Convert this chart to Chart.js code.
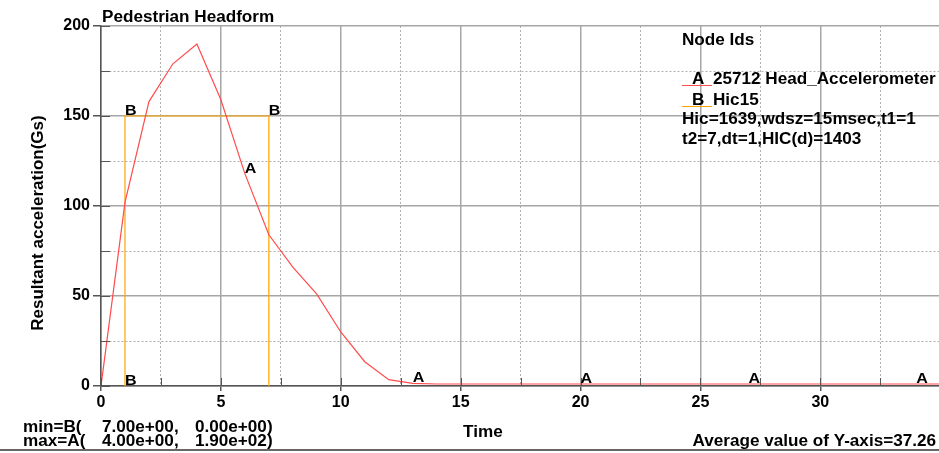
<!DOCTYPE html>
<html>
<head>
<meta charset="utf-8">
<title>Pedestrian Headform</title>
<script src="https://cdn.jsdelivr.net/npm/chart.js@4.4.1/dist/chart.umd.min.js"></script>
<style>
  html, body { margin: 0; padding: 0; background: #fff; }
  #wrap { width: 939px; height: 453px; position: relative; }
</style>
</head>
<body>
<div id="wrap"><canvas id="hic-chart" width="939" height="453"></canvas></div>
<script>
// curve A: 25712 Head_Accelerometer, resultant acceleration (Gs) every 1 ms
const timeA = [0, 1, 2, 3, 4, 5, 6, 7, 8, 9, 10, 11, 12, 13, 14, 15, 16, 17, 18, 19, 20,
  21, 22, 23, 24, 25, 26, 27, 28, 29, 30, 31, 32, 33, 34, 35];
const accelA = [0, 102, 158, 179, 190, 159, 118, 84, 66, 51, 30, 13.5, 3.5, 1.5, 1.1, 1.1, 1.1, 1.1, 1.1, 1.1, 1.1,
  1.1, 1.1, 1.1, 1.1, 1.1, 1.1, 1.1, 1.1, 1.1, 1.1, 1.1, 1.1, 1.1, 1.1, 1.1];
// curve B: Hic15 window t1..t2
const timeB = [1, 1, 7, 7];
const levelB = [0, 150, 150, 0];
// which points carry the curve letter
const markA = [6, 13, 20, 27, 34];
const markB = [0, 1, 2];

const xLabelTicks = [0, 5, 10, 15, 20, 25, 30];
const yLabelTicks = [0, 50, 100, 150, 200];

const legendInfo = ["Hic=1639,wdsz=15msec,t1=1", "t2=7,dt=1,HIC(d)=1403"];
const minText = ["min=B(", "7.00e+00,", "0.00e+00)"];
const maxText = ["max=A(", "4.00e+00,", "1.90e+02)"];

const FONT = '"Liberation Sans", Arial, sans-serif';
const RED = "#ff4c4c";
const ORANGE = "#ffa500";
const STRETCH = 1.07; // the source lettering is a little wide

const isMajorX = (v) => xLabelTicks.includes(v);
const isMajorY = (v) => yLabelTicks.includes(v);

function text(ctx, s, x, y, size, align, sx) {
  ctx.save();
  ctx.translate(x, y);
  ctx.scale(sx || STRETCH, 1);
  ctx.font = `bold ${size}px ${FONT}`;
  ctx.textAlign = align || "left";
  ctx.textBaseline = "alphabetic";
  ctx.fillStyle = "#000";
  ctx.fillText(s, 0, 0);
  ctx.restore();
}

const annotations = {
  id: "annotations",
  afterDatasetsDraw(chart) {
    const { ctx, chartArea: a, scales } = chart;
    const x = scales.x, y = scales.y;
    ctx.save();
    // short inner tick marks
    ctx.strokeStyle = "#555";
    ctx.lineWidth = 1;
    ctx.beginPath();
    x.ticks.forEach((t) => {
      const px = Math.round(x.getPixelForValue(t.value)) + 0.5;
      ctx.moveTo(px, a.bottom);
      ctx.lineTo(px, a.bottom - 8);
    });
    y.ticks.forEach((t) => {
      const py = Math.round(y.getPixelForValue(t.value)) + 0.5;
      ctx.moveTo(a.left, py);
      ctx.lineTo(a.left + 9, py);
    });
    ctx.stroke();

    // curve letters
    markA.forEach((i) => {
      text(ctx, "A", x.getPixelForValue(timeA[i]), y.getPixelForValue(accelA[i]) - 1, 15);
    });
    markB.forEach((i) => {
      text(ctx, "B", x.getPixelForValue(timeB[i]), y.getPixelForValue(levelB[i]) - 1, 15);
    });
    ctx.restore();
  },
  afterDraw(chart) {
    const { ctx } = chart;
    ctx.save();
    text(ctx, "Pedestrian Headform", 102, 22, 16);

    // legend block
    text(ctx, "Node Ids", 682, 45, 16);
    ctx.lineWidth = 1;
    ctx.strokeStyle = RED;
    ctx.beginPath(); ctx.moveTo(682, 85.5); ctx.lineTo(712, 85.5); ctx.stroke();
    text(ctx, "A", 692, 84, 16);
    text(ctx, "25712 Head_Accelerometer", 713, 84, 16);
    ctx.strokeStyle = ORANGE;
    ctx.beginPath(); ctx.moveTo(682, 106.5); ctx.lineTo(712, 106.5); ctx.stroke();
    text(ctx, "B", 692, 105, 16);
    text(ctx, "Hic15", 713, 105, 16);
    text(ctx, legendInfo[0], 682, 124, 16);
    text(ctx, legendInfo[1], 682, 144, 16);

    // axis titles
    ctx.save();
    ctx.translate(43, 223);
    ctx.rotate(-Math.PI / 2);
    text(ctx, "Resultant acceleration(Gs)", 0, 0, 17, "center", 1);
    ctx.restore();
    text(ctx, "Time", 463, 437, 16);

    // min / max summary
    text(ctx, minText[0], 23, 432, 16);
    text(ctx, minText[1], 102, 432, 16);
    text(ctx, minText[2], 195, 432, 16);
    text(ctx, maxText[0], 23, 446, 16);
    text(ctx, maxText[1], 102, 446, 16);
    text(ctx, maxText[2], 195, 446, 16);
    text(ctx, "Average value of Y-axis=37.26", 936, 446, 16, "right");

    // frame line along the bottom
    ctx.strokeStyle = "#666";
    ctx.lineWidth = 2;
    ctx.beginPath(); ctx.moveTo(0, 450); ctx.lineTo(939, 450); ctx.stroke();
    ctx.restore();
  },
};

new Chart(document.getElementById("hic-chart"), {
  type: "scatter",
  data: {
    datasets: [
      {
        label: "A",
        data: timeA.map((t, i) => ({ x: t, y: accelA[i] })),
        showLine: true,
        borderColor: RED,
        borderWidth: 1.2,
        pointRadius: 0,
        tension: 0,
      },
      {
        label: "B",
        data: timeB.map((t, i) => ({ x: t, y: levelB[i] })),
        showLine: true,
        borderColor: ORANGE,
        borderWidth: 1.2,
        pointRadius: 0,
        tension: 0,
      },
    ],
  },
  plugins: [annotations],
  options: {
    responsive: false,
    animation: false,
    devicePixelRatio: 1,
    layout: { padding: { top: 26, right: 0, bottom: 0, left: 0 } },
    plugins: { legend: { display: false }, tooltip: { enabled: false }, title: { display: false } },
    scales: {
      x: {
        type: "linear",
        min: 0,
        max: 34.95,
        afterFit(scale) { scale.height = 67; },
        ticks: {
          stepSize: 2.5,
          includeBounds: false,
          autoSkip: false,
          maxRotation: 0,
          padding: 2,
          color: "#000",
          font: { family: FONT, size: 16, weight: "bold" },
          callback: (v) => (isMajorX(v) ? String(v) : ""),
        },
        grid: {
          color: (c) => (c.tick && isMajorX(c.tick.value) ? "#a6a6a6" : "#b0b0b0"),
          lineWidth: (c) => (c.tick && isMajorX(c.tick.value) ? 1.5 : 1),
          tickColor: (c) => (c.tick && isMajorX(c.tick.value) ? "#555" : "rgba(0,0,0,0)"),
          tickLength: 5,
        },
        border: {
          color: "#555",
          width: 1.5,
          dash: (c) => (c.tick && !isMajorX(c.tick.value) ? [2, 2] : []),
        },
      },
      y: {
        min: 0,
        max: 200,
        afterFit(scale) { scale.width = 101; },
        ticks: {
          stepSize: 25,
          autoSkip: false,
          padding: 3,
          color: "#000",
          font: { family: FONT, size: 16, weight: "bold" },
          callback: (v) => (isMajorY(v) ? String(v) : ""),
        },
        grid: {
          color: (c) => (c.tick && isMajorY(c.tick.value) ? "#a6a6a6" : "#b0b0b0"),
          lineWidth: (c) => (c.tick && isMajorY(c.tick.value) ? 1.5 : 1),
          tickColor: (c) => (c.tick && isMajorY(c.tick.value) ? "#555" : "rgba(0,0,0,0)"),
          tickLength: 8,
        },
        border: {
          color: "#555",
          width: 1.5,
          dash: (c) => (c.tick && !isMajorY(c.tick.value) ? [2, 2] : []),
        },
      },
    },
  },
});
</script>
</body>
</html>
